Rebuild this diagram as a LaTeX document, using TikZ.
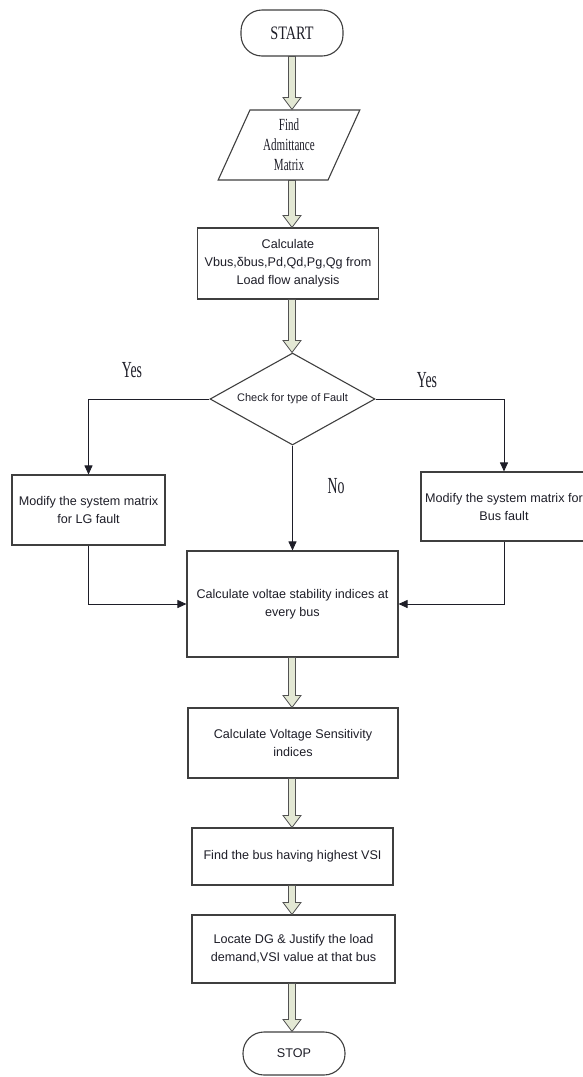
\documentclass[tikz,border=0pt]{standalone}
\usepackage{fontspec}
\setmainfont{Liberation Sans}
\newfontfamily\serifA[FakeStretch=0.75]{Liberation Serif}
\newfontfamily\serifC[FakeStretch=0.65]{Liberation Serif}
\newfontfamily\serifB[FakeStretch=0.6]{Liberation Serif}
\usetikzlibrary{shapes.geometric,arrows.meta,calc}
\definecolor{linec}{HTML}{3F3F3F}
\definecolor{txtc}{HTML}{1E1E28}
\definecolor{fatfill}{HTML}{E3E8D4}
\newcommand{\fatarrow}[2]{%
  \path (#1.south -| axis) coordinate (fa-s) (#2.north -| axis) coordinate (fa-e);
  \draw[fat] ($(fa-s)+(-3.5,0)$) -- ($(fa-e)+(-3.5,-12)$) -- ($(fa-e)+(-9,-12)$) -- (fa-e)
    -- ($(fa-e)+(9,-12)$) -- ($(fa-e)+(3.5,-12)$) -- ($(fa-s)+(3.5,0)$) -- cycle;}
\begin{document}
\begin{tikzpicture}[x=1pt,y=-1pt,
  every node/.style={text=txtc},
  boxst/.style={draw=linec, line width=1.1pt, fill=white, align=center, inner sep=2pt,
    font=\fontsize{12.6}{18}\selectfont},
  termst/.style={boxst, rounded corners=21pt},
  fat/.style={draw=linec!90, line width=0.8pt, fill=fatfill, line join=miter},
  conn/.style={draw=txtc, line width=0.9pt, -{Triangle[length=9pt,width=8pt]}},
  lab/.style={font=\serifB\fontsize{23}{23}\selectfont}
]
\useasboundingbox (0,0) rectangle (583,1077);
\coordinate (axis) at (292,0);

\node[termst, minimum width=102pt, minimum height=46pt, font=\serifA\fontsize{19}{20}\selectfont] (start) at (292,33) {START};
\node[trapezium, trapezium left angle=68, trapezium right angle=112, trapezium stretches=true,
  draw=linec, line width=1.1pt, minimum width=143pt, minimum height=70pt, inner sep=0pt, align=center,
  font=\serifC\fontsize{17}{20}\selectfont] (adm) at (289,145) {Find\\Admittance\\Matrix};
\node[boxst, minimum width=181pt, minimum height=71pt] (calc) at (288,263.5) {Calculate\\Vbus,δbus,Pd,Qd,Pg,Qg from\\Load flow analysis};
\node[diamond, draw=linec, line width=1.1pt, aspect=1.8, inner sep=0pt, minimum width=165pt, minimum height=92pt,
  font=\fontsize{11}{13}\selectfont] (dia) at (292.5,399) {Check for type of Fault};
\node[boxst, minimum width=153pt, minimum height=70pt] (lg) at (88.5,510) {Modify the system matrix\\for LG fault};
\node[boxst, minimum width=166pt, minimum height=69pt] (busf) at (504,506.5) {Modify the system matrix for\\Bus fault};
\node[boxst, minimum width=211pt, minimum height=106pt] (vsi) at (292.5,604) {Calculate voltae stability indices at\\every bus};
\node[boxst, minimum width=210pt, minimum height=70pt] (sens) at (293,743) {Calculate Voltage Sensitivity\\indices};
\node[boxst, minimum width=201pt, minimum height=57pt] (high) at (292.5,856.5) {Find the bus having highest VSI};
\node[boxst, minimum width=203pt, minimum height=68pt] (dg) at (293.5,949) {Locate DG \& Justify the load\\demand,VSI value at that bus};
\node[termst, minimum width=102pt, minimum height=43pt, font=\fontsize{12.6}{15}\selectfont] (stop) at (294,1053.5) {STOP};

\fatarrow{start}{adm}
\fatarrow{adm}{calc}
\fatarrow{calc}{dia}
\fatarrow{vsi}{sens}
\fatarrow{sens}{high}
\fatarrow{high}{dg}
\fatarrow{dg}{stop}

\draw[conn] (dia.west) -| (lg.north);
\draw[conn] (dia.east) -| (busf.north);
\draw[conn] (dia.south) -- (dia.south |- vsi.north);
\draw[conn] (lg.south) |- (vsi.west);
\draw[conn] (busf.south) |- (vsi.east);

\node[lab] (yes1) at (132,370) {Yes};
\node[lab] (yes2) at (427,380) {Yes};
\node[lab] (no) at (336,486) {No};
\end{tikzpicture}
\end{document}
